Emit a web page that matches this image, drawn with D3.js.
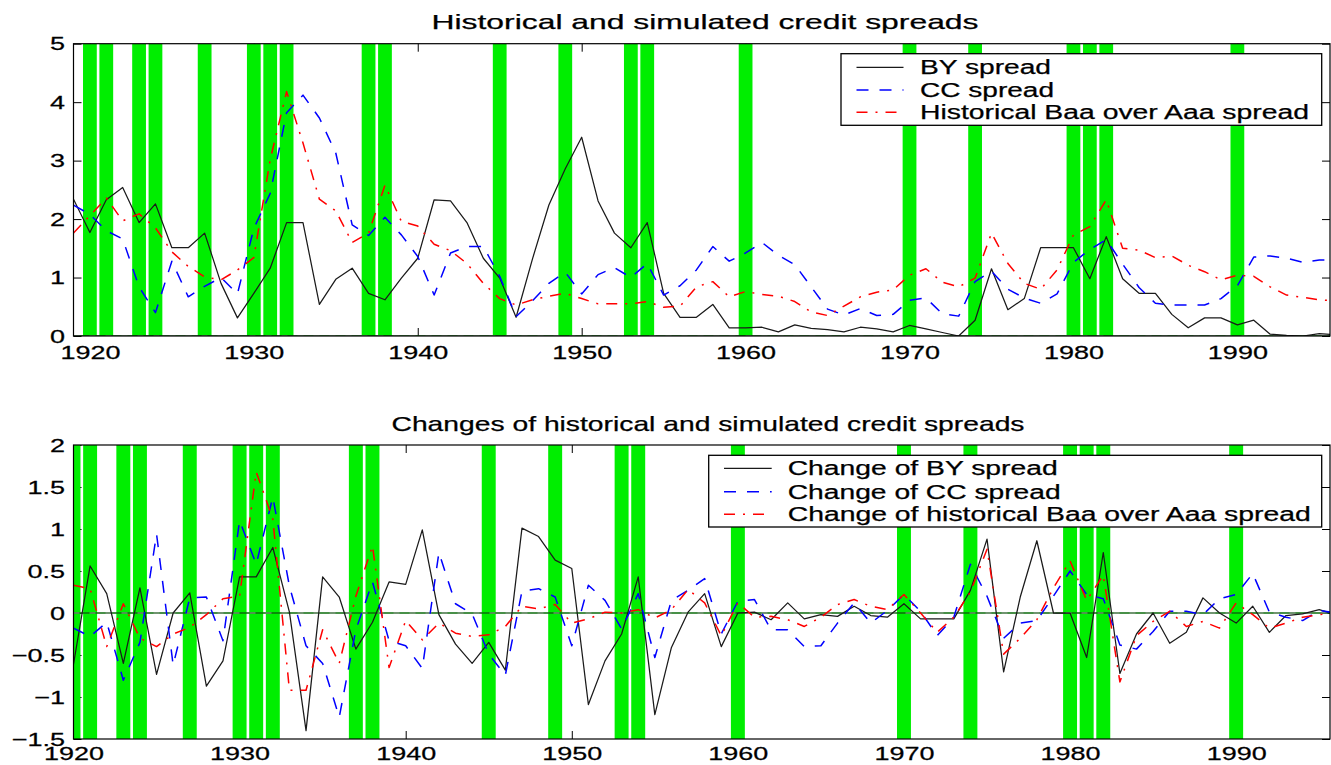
<!DOCTYPE html>
<html>
<head>
<meta charset="utf-8">
<script src="https://cdn.jsdelivr.net/npm/d3@7"></script>
<style>
  html, body { margin: 0; padding: 0; background: #fff; }
  svg { display: block; }
</style>
</head>
<body>
<svg id="chart" width="1331" height="765"></svg>
<script>
// ---- Data -------------------------------------------------------------
// Annual observations, 1919-1996 (levels) and 1920-1996 (first differences)
const levelYears = d3.range(1919, 1997);
const changeYears = d3.range(1920, 1997);

// NBER recession years shaded in green
const recessionYears = [1920, 1921, 1923, 1924, 1927, 1930, 1931, 1932, 1937, 1938,
  1945, 1949, 1953, 1954, 1960, 1970, 1974, 1980, 1981, 1982, 1990];

// Credit spreads (%)
const bySpread = [
  2.34, 1.77, 2.33, 2.54, 1.94, 2.26, 1.51, 1.51, 1.76, 0.90,
  0.31, 0.73, 1.16, 1.94, 1.94, 0.54, 0.97, 1.16, 0.73, 0.62,
  0.99, 1.33, 2.33, 2.31, 1.94, 1.33, 0.99, 0.32, 1.32, 2.24,
  2.86, 3.40, 2.31, 1.76, 1.51, 1.94, 0.73, 0.32, 0.32, 0.54,
  0.14, 0.14, 0.15, 0.07, 0.19, 0.13, 0.11, 0.07, 0.15, 0.12,
  0.07, 0.18, 0.12, 0.06, 0.00, 0.27, 1.15, 0.45, 0.64, 1.51,
  1.51, 1.51, 0.98, 1.70, 0.98, 0.73, 0.73, 0.37, 0.14, 0.31,
  0.31, 0.19, 0.27, 0.03, 0.01, 0.00, 0.04, 0.02
];
const ccSpread = [
  2.24, 2.08, 1.80, 1.66, 0.84, 0.40, 1.28, 0.67, 0.85, 1.00,
  0.72, 1.84, 2.44, 3.82, 4.12, 3.73, 3.13, 1.90, 1.72, 2.03,
  1.73, 1.36, 0.70, 1.42, 1.53, 1.53, 1.02, 0.33, 0.60, 0.90,
  1.09, 0.72, 1.05, 1.17, 1.00, 1.24, 0.70, 0.86, 1.13, 1.53,
  1.28, 1.42, 1.60, 1.38, 1.22, 0.84, 0.46, 0.36, 0.47, 0.35,
  0.37, 0.61, 0.65, 0.38, 0.34, 0.93, 1.11, 0.80, 0.65, 0.56,
  0.72, 1.26, 1.48, 1.65, 1.23, 0.83, 0.56, 0.53, 0.53, 0.53,
  0.64, 0.86, 1.35, 1.37, 1.33, 1.26, 1.30, 1.30
];
const baaSpread = [
  1.76, 2.06, 2.36, 1.97, 2.09, 1.85, 1.44, 1.19, 1.01, 0.96,
  1.13, 1.34, 3.02, 4.18, 3.30, 2.34, 2.14, 1.60, 1.76, 2.58,
  1.96, 1.88, 1.57, 1.46, 1.24, 0.90, 0.64, 0.53, 0.62, 0.68,
  0.73, 0.64, 0.55, 0.55, 0.55, 0.59, 0.49, 0.51, 0.84, 0.93,
  0.67, 0.76, 0.71, 0.68, 0.59, 0.41, 0.35, 0.51, 0.67, 0.75,
  0.79, 1.04, 1.15, 0.92, 0.84, 0.99, 1.76, 1.24, 0.90, 0.80,
  1.13, 1.73, 1.87, 2.33, 1.50, 1.47, 1.34, 1.37, 1.21, 1.10,
  0.96, 1.04, 1.02, 0.84, 0.70, 0.66, 0.62, 0.60
];

// Year-on-year changes of the spreads
const byChange = [
  -0.61, 0.56, 0.23, -0.60, 0.30, -0.73, 0.00, 0.24, -0.87, -0.57,
  0.43, 0.43, 0.78, 0.01, -1.40, 0.43, 0.19, -0.43, -0.11, 0.37,
  0.34, 0.99, -0.02, -0.37, -0.60, -0.35, -0.68, 1.01, 0.91, 0.63,
  0.53, -1.09, -0.57, -0.25, 0.43, -1.21, -0.41, 0.01, 0.23, -0.40,
  0.00, 0.01, -0.08, 0.12, -0.07, -0.02, -0.04, 0.08, -0.03, -0.05,
  0.11, -0.07, -0.07, -0.07, 0.27, 0.88, -0.70, 0.19, 0.86, 0.00,
  0.00, -0.53, 0.72, -0.72, -0.25, 0.00, -0.36, -0.23, 0.18, 0.00,
  -0.12, 0.08, -0.23, -0.03, -0.01, 0.04, -0.02
];
const ccChange = [
  -0.18, -0.28, -0.11, -0.80, -0.35, 0.94, -0.62, 0.18, 0.19, -0.33,
  1.10, 0.58, 1.38, 0.32, -0.39, -0.60, -1.24, -0.20, 0.37, -0.33,
  -0.39, -0.66, 0.72, 0.11, -0.01, -0.49, -0.74, 0.26, 0.29, 0.19,
  -0.39, 0.33, 0.15, -0.19, 0.23, -0.53, 0.15, 0.27, 0.41, -0.25,
  0.14, 0.16, -0.20, -0.20, -0.40, -0.39, -0.12, 0.12, -0.12, 0.03,
  0.22, 0.02, -0.27, -0.05, 0.58, 0.20, -0.30, -0.12, -0.09, 0.20,
  0.50, 0.22, 0.17, -0.38, -0.43, -0.22, 0.02, 0.02, -0.02, 0.17,
  0.22, 0.47, 0.01, -0.05, -0.09, 0.03, 0.00
];
const baaChange = [
  0.33, 0.29, -0.40, 0.11, -0.30, -0.40, -0.25, -0.17, -0.02, 0.17,
  0.20, 1.68, 1.12, -0.92, -0.92, -0.20, -0.60, 0.20, 0.80, -0.65,
  -0.09, -0.32, -0.12, -0.24, -0.28, -0.26, -0.16, 0.08, 0.05, 0.10,
  -0.12, -0.07, 0.01, 0.00, 0.04, -0.06, 0.04, 0.28, 0.12, -0.27,
  0.12, -0.05, -0.04, -0.08, -0.16, -0.05, 0.10, 0.16, 0.08, 0.04,
  0.22, 0.00, -0.23, -0.05, 0.25, 0.76, -0.49, -0.30, -0.08, 0.30,
  0.62, 0.15, 0.45, -0.82, -0.27, -0.10, 0.02, -0.16, -0.10, -0.18,
  0.12, -0.02, -0.18, -0.12, -0.05, -0.02, 0.01
];

// Axis ticks
const xTickValues = [1920, 1930, 1940, 1950, 1960, 1970, 1980, 1990];
const levelTickValues = [0, 1, 2, 3, 4, 5];
const levelTickLabels = ["0", "1", "2", "3", "4", "5"];
const changeTickValues = [-1.5, -1, -0.5, 0, 0.5, 1, 1.5, 2];
const changeTickLabels = ["\u22121.5", "\u22121", "\u22120.5", "0", "0.5", "1", "1.5", "2"];

// Legend entries
const levelLegend = ["BY spread", "CC spread", "Historical Baa over Aaa spread"];
const changeLegend = ["Change of BY spread", "Change of CC spread",
  "Change of historical Baa over Aaa spread"];

// ---- Styling -----------------------------------------------------------
const FONT = "'Liberation Sans', Arial, Helvetica, sans-serif";
const SX = 1.42;           // horizontal stretch of the lettering
const PLOT_L = 73.5, PLOT_R = 1330;
const seriesStyle = [
  { color: "#1a1a1a", width: 1.25, dash: null },
  { color: "#0000ff", width: 1.5, dash: "12,11" },
  { color: "#ff0000", width: 1.5, dash: "11,8,2,8" }
];

const svg = d3.select("#chart");

function stretchedText(parent, str, x, y, size, width, anchor) {
  // text squeezed/stretched to the given advance width
  const t = parent.append("text")
    .attr("y", y)
    .attr("font-family", FONT)
    .attr("font-size", size)
    .attr("fill", "#000")
    .attr("stroke", "#000")
    .attr("stroke-width", 0.25)
    .attr("textLength", width)
    .attr("lengthAdjust", "spacingAndGlyphs")
    .text(str);
  t.attr("x", anchor === "middle" ? x - width / 2 : x);
  return t;
}

function drawPanel(cfg) {
  const g = svg.append("g");
  const x = d3.scaleLinear().domain(cfg.xDomain).range([PLOT_L, PLOT_R]);
  const y = d3.scaleLinear().domain(cfg.yDomain).range([cfg.bottom, cfg.top]);

  const clipId = "clip-" + cfg.id;
  svg.append("clipPath").attr("id", clipId)
    .append("rect")
    .attr("x", PLOT_L).attr("y", cfg.top)
    .attr("width", PLOT_R - PLOT_L).attr("height", cfg.bottom - cfg.top);

  // ticks (inward, on all four sides)
  const styleAxis = sel => {
    sel.select(".domain").remove();
    sel.attr("font-family", FONT).attr("font-size", 19);
    sel.selectAll(".tick line").attr("stroke", "#000").attr("stroke-width", 1);
    sel.selectAll(".tick text").attr("fill", "#000")
      .attr("stroke", "#000").attr("stroke-width", 0.25);
  };
  g.append("g").attr("transform", `translate(0,${cfg.bottom})`)
    .call(d3.axisBottom(x).tickValues(xTickValues).tickSize(-8).tickPadding(cfg.xPad)
      .tickFormat(d3.format("d")))
    .call(styleAxis)
    .call(sel => sel.selectAll(".tick text").attr("transform", `scale(${SX},1)`));
  g.append("g").attr("transform", `translate(0,${cfg.top})`)
    .call(d3.axisTop(x).tickValues(xTickValues).tickSize(-8).tickFormat(""))
    .call(styleAxis);
  g.append("g").attr("transform", `translate(${PLOT_L},0)`)
    .call(d3.axisLeft(y).tickValues(cfg.yTicks).tickSize(-8).tickPadding(8.5)
      .tickFormat((d, i) => cfg.yTickLabels[i]))
    .call(styleAxis)
    .call(sel => sel.selectAll(".tick text")
      .attr("x", -8.5 / SX)
      .attr("transform", `scale(${SX},1)`));
  g.append("g").attr("transform", `translate(${PLOT_R},0)`)
    .call(d3.axisRight(y).tickValues(cfg.yTicks).tickSize(-8).tickFormat(""))
    .call(styleAxis);

  const plot = g.append("g").attr("clip-path", `url(#${clipId})`);

  // recession shading
  plot.selectAll("rect.recession")
    .data(recessionYears)
    .join("rect")
    .attr("class", "recession")
    .attr("x", d => x(d - 0.42))
    .attr("width", d => x(d + 0.42) - x(d - 0.42))
    .attr("y", cfg.top)
    .attr("height", cfg.bottom - cfg.top)
    .attr("fill", "#00ee00");

  // zero reference line
  plot.append("line")
    .attr("x1", PLOT_L).attr("x2", PLOT_R)
    .attr("y1", y(0)).attr("y2", y(0))
    .attr("stroke", "#0b6b0b").attr("stroke-width", 1.6);
  plot.append("line")
    .attr("x1", PLOT_L).attr("x2", PLOT_R)
    .attr("y1", y(0)).attr("y2", y(0))
    .attr("stroke", "#9a9a9a").attr("stroke-width", 1)
    .attr("stroke-dasharray", "6,10");

  // series
  const line = d3.line().x(d => x(d[0])).y(d => y(d[1]));
  cfg.series.forEach((vals, i) => {
    const st = seriesStyle[i];
    plot.append("path")
      .datum(cfg.years.map((yr, k) => [yr, vals[k]]))
      .attr("d", line)
      .attr("fill", "none")
      .attr("stroke", st.color)
      .attr("stroke-width", st.width)
      .attr("stroke-linejoin", "round")
      .attr("stroke-dasharray", st.dash);
  });

  // frame
  g.append("rect")
    .attr("x", PLOT_L).attr("y", cfg.top)
    .attr("width", PLOT_R - PLOT_L).attr("height", cfg.bottom - cfg.top)
    .attr("fill", "none").attr("stroke", "#000").attr("stroke-width", 1.2);

  // title
  stretchedText(g, cfg.title, cfg.titleX, cfg.titleY, 21, cfg.titleWidth, "middle");

  // legend
  const lg = cfg.legend;
  g.append("rect")
    .attr("x", lg.x0).attr("y", lg.y0)
    .attr("width", lg.x1 - lg.x0).attr("height", lg.y1 - lg.y0)
    .attr("fill", "#fff").attr("stroke", "#000").attr("stroke-width", 1.3);
  lg.labels.forEach((lab, i) => {
    const st = seriesStyle[i];
    const cy = lg.rows[i];
    g.append("line")
      .attr("x1", lg.lineX0).attr("x2", lg.lineX1)
      .attr("y1", cy).attr("y2", cy)
      .attr("stroke", st.color).attr("stroke-width", st.width)
      .attr("stroke-dasharray", st.dash);
    stretchedText(g, lab, lg.textX, cy + 7, 20, lg.widths[i], "start");
  });
}

drawPanel({
  id: "levels",
  xDomain: [1919, 1995.65],
  yDomain: [0, 5],
  top: 43.7, bottom: 336,
  xPad: 10,
  yTicks: levelTickValues, yTickLabels: levelTickLabels,
  years: levelYears,
  series: [bySpread, ccSpread, baaSpread],
  title: "Historical and simulated credit spreads",
  titleX: 705, titleY: 28.5, titleWidth: 547,
  legend: {
    x0: 841, y0: 53.7, x1: 1321.7, y1: 125.3,
    rows: [67.3, 90, 112.3],
    lineX0: 856.5, lineX1: 903.5, textX: 920,
    widths: [131, 134, 389],
    labels: levelLegend
  }
});

drawPanel({
  id: "changes",
  xDomain: [1920, 1995.65],
  yDomain: [-1.5, 2],
  top: 445, bottom: 739,
  xPad: 8,
  yTicks: changeTickValues, yTickLabels: changeTickLabels,
  years: changeYears,
  series: [byChange, ccChange, baaChange],
  title: "Changes of historical and simulated credit spreads",
  titleX: 708, titleY: 430.5, titleWidth: 633,
  legend: {
    x0: 708.7, y0: 455.3, x1: 1321.7, y1: 527,
    rows: [468.3, 491.7, 514.2],
    lineX0: 724, lineX1: 771.7, textX: 787.7,
    widths: [270, 273, 523],
    labels: changeLegend
  }
});
</script>
</body>
</html>
